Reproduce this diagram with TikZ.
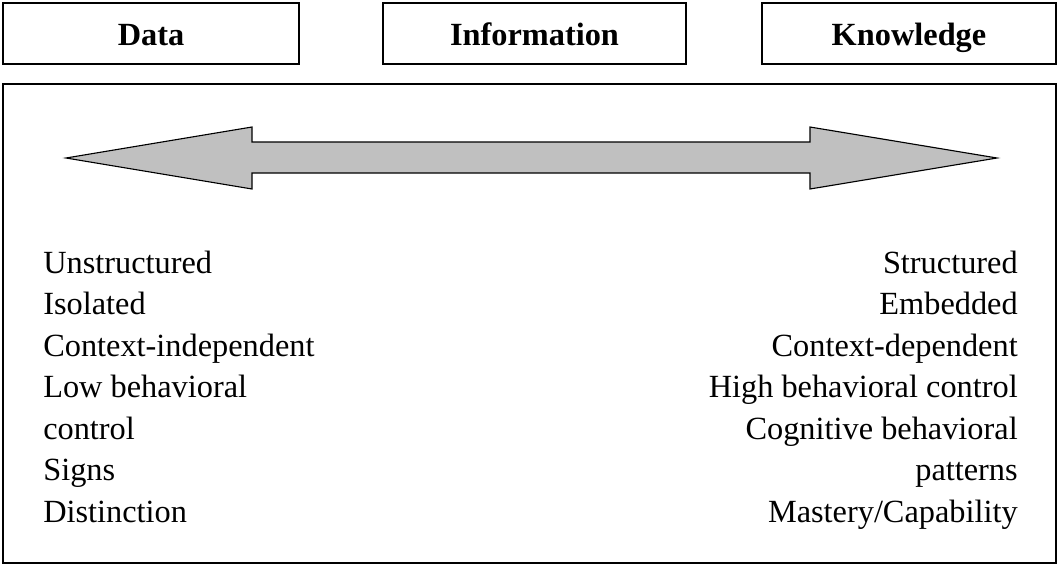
\documentclass[tikz,border=0pt]{standalone}
\usepackage{fontspec}
\setmainfont{Liberation Serif}
\definecolor{arrowgray}{HTML}{C0C0C0}
\tikzset{
  itemtext/.style={inner sep=0pt, font=\fontsize{23}{27}\selectfont},
  headtext/.style={itemtext, anchor=base, font=\fontsize{23}{27}\selectfont\bfseries}
}
\begin{document}
\begin{tikzpicture}[x=0.025cm, y=-0.025cm]
  \useasboundingbox (0,0) rectangle (1060,567);

  % Les trois titres
  \draw[thick] (3,3) rectangle (299,64);
  \draw[thick] (383,3) rectangle (686,64);
  \draw[thick] (762,3) rectangle (1056,64);
  \node[headtext] (data) at (151,45) {Data};
  \node[headtext] (info) at (534.5,45) {Information};
  \node[headtext] (know) at (909,45) {Knowledge};

  % Le grand cadre
  \draw[thick] (3,84) rectangle (1056,563);

  % La double fleche
  \draw[thick, fill=arrowgray, line join=miter]
    (66,158) -- (252,127) -- (252,142) -- (810,142) -- (810,127) -- (997,158)
    -- (810,189) -- (810,173) -- (252,173) -- (252,189) -- cycle;

  % Les mots
  \foreach \txt [count=\i] in {Unstructured, Isolated, Context-independent,
      Low behavioral, control, Signs, Distinction}
    \node[itemtext, anchor=base west] (left\i) at (43,{273+41.5*(\i-1)}) {\txt};
  \foreach \txt [count=\i] in {Structured, Embedded, Context-dependent,
      High behavioral control, Cognitive behavioral, patterns, Mastery/Capability}
    \node[itemtext, anchor=base east] (right\i) at (1018,{273+41.5*(\i-1)}) {\txt};

\end{tikzpicture}
\end{document}
